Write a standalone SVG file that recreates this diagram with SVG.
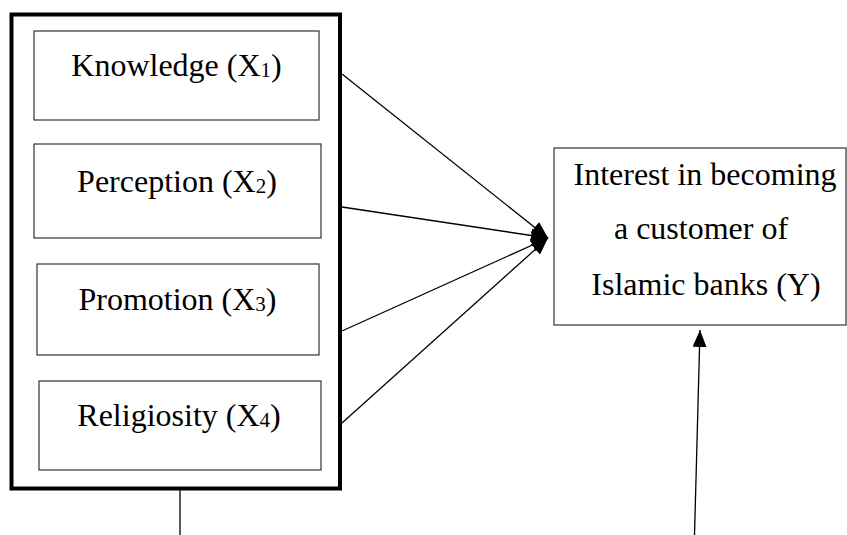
<svg xmlns="http://www.w3.org/2000/svg" width="847" height="535" viewBox="0 0 847 535">
<style>
.box{fill:#fff;stroke:#333;stroke-width:1.2}
.outer{fill:#fff;stroke:#000;stroke-width:4}
.t{font-family:"Liberation Serif","Times New Roman",serif;font-size:32px;fill:#000;text-anchor:middle}
.sub{font-size:21px}
.ln{stroke:#000;stroke-width:1.3;fill:none}
</style>
<defs>
<marker id="ah" markerWidth="17" markerHeight="14" refX="17" refY="7" orient="auto" markerUnits="userSpaceOnUse">
<path d="M0,0 L17,7 L0,14 Z" fill="#000"/>
</marker>
</defs>
<g id="group-x">
<rect class="outer" x="11.5" y="14.5" width="328.5" height="474"/>
</g>
<g id="node-x1">
<rect class="box" x="34" y="31" width="285" height="89"/>
<text class="t" x="176.5" y="76">Knowledge (X<tspan class="sub" dy="1">1</tspan><tspan dy="-1">)</tspan></text>
</g>
<g id="node-x2">
<rect class="box" x="34" y="144" width="287" height="94"/>
<text class="t" x="177" y="192">Perception (X<tspan class="sub" dy="1">2</tspan><tspan dy="-1">)</tspan></text>
</g>
<g id="node-x3">
<rect class="box" x="37" y="264" width="282" height="91"/>
<text class="t" x="177.5" y="310">Promotion (X<tspan class="sub" dy="1">3</tspan><tspan dy="-1">)</tspan></text>
</g>
<g id="node-x4">
<rect class="box" x="39" y="381" width="282" height="89"/>
<text class="t" x="179" y="426">Religiosity (X<tspan class="sub" dy="1">4</tspan><tspan dy="-1">)</tspan></text>
</g>
<g id="node-y">
<rect class="box" x="554" y="148" width="292" height="177"/>
<text class="t" x="705" y="185">Interest in becoming</text>
<text class="t" x="701" y="239">a customer of</text>
<text class="t" x="706" y="295">Islamic banks (Y)</text>
</g>
<g id="connectors">
<line class="ln" x1="342" y1="74" x2="548" y2="238" marker-end="url(#ah)"/>
<line class="ln" x1="342" y1="207" x2="548" y2="238" marker-end="url(#ah)"/>
<line class="ln" x1="342" y1="331" x2="548" y2="238" marker-end="url(#ah)"/>
<line class="ln" x1="342" y1="423" x2="548" y2="238" marker-end="url(#ah)"/>
<line class="ln" x1="180" y1="490" x2="180" y2="535"/>
<line class="ln" x1="694.5" y1="535" x2="700" y2="330" marker-end="url(#ah)"/>
</g>
</svg>
